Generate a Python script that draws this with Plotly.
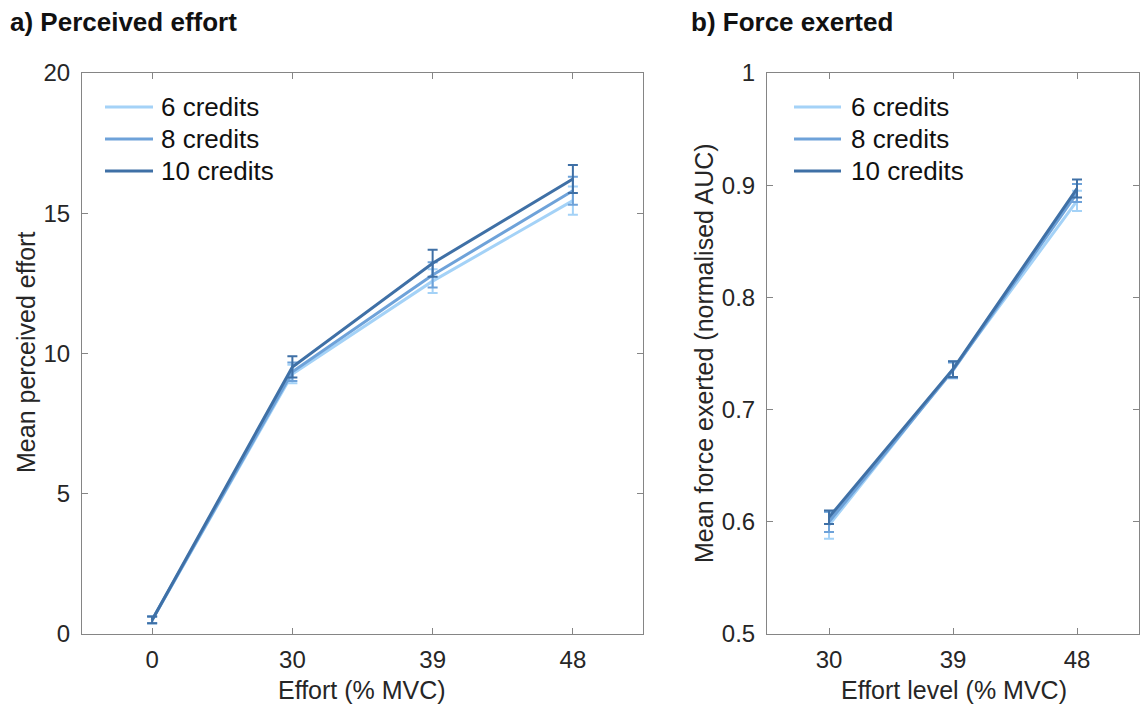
import plotly.graph_objects as go

# Effort levels (% MVC)
effort_a = ["0", "30", "39", "48"]
effort_b = ["30", "39", "48"]

series_names = ["6 credits", "8 credits", "10 credits"]
series_colors = ["#A4D2F7", "#6EA2D9", "#3F70A6"]

# a) Mean perceived effort and SEM
effort_6 = [0.5, 9.27, 12.58, 15.45]
effort_8 = [0.5, 9.35, 12.8, 15.8]
effort_10 = [0.5, 9.52, 13.22, 16.22]
effort_err_6 = [0.12, 0.33, 0.42, 0.5]
effort_err_8 = [0.12, 0.33, 0.45, 0.5]
effort_err_10 = [0.12, 0.38, 0.48, 0.5]

# b) Mean force exerted (normalised AUC) and SEM
force_6 = [0.597, 0.736, 0.886]
force_8 = [0.600, 0.735, 0.893]
force_10 = [0.604, 0.736, 0.897]
force_err_6 = [0.012, 0.007, 0.009]
force_err_8 = [0.009, 0.007, 0.008]
force_err_10 = [0.006, 0.007, 0.008]

W, H = 1140, 706
FONT = "Liberation Sans, Arial, Helvetica, sans-serif"

fig = go.Figure()

for name, color, ys, es in zip(series_names, series_colors,
                               [effort_6, effort_8, effort_10],
                               [effort_err_6, effort_err_8, effort_err_10]):
    fig.add_trace(go.Scatter(
        x=effort_a, y=ys, name=name, mode="lines", showlegend=False,
        line=dict(color=color, width=3),
        error_y=dict(type="data", array=es, color=color, thickness=2, width=5),
        xaxis="x", yaxis="y",
    ))

for name, color, ys, es in zip(series_names, series_colors,
                               [force_6, force_8, force_10],
                               [force_err_6, force_err_8, force_err_10]):
    fig.add_trace(go.Scatter(
        x=effort_b, y=ys, name=name, mode="lines", showlegend=False,
        line=dict(color=color, width=3),
        error_y=dict(type="data", array=es, color=color, thickness=2, width=5),
        xaxis="x2", yaxis="y2",
    ))

axis_common = dict(
    showline=True, linecolor="#858585", linewidth=1, mirror="ticks",
    ticks="inside", ticklen=6, tickcolor="#858585", showgrid=False,
    zeroline=False, automargin=False,
    tickfont=dict(size=24, color="#262626", family=FONT),
)


def px_x(v):
    return v / W


def px_y(v):
    return (H - v) / H


# Legend keys: short line samples with labels, one block per panel
shapes = []
annotations = []
legend_rows = [107, 139, 171]
for x_line0, x_line1, x_text in [(105, 153, 159), (794, 841, 849)]:
    for name, color, row in zip(series_names, series_colors, legend_rows):
        shapes.append(dict(type="line", xref="paper", yref="paper",
                           x0=px_x(x_line0), x1=px_x(x_line1),
                           y0=px_y(row), y1=px_y(row),
                           line=dict(color=color, width=3)))
        annotations.append(dict(text=name, x=px_x(x_text), y=px_y(row),
                                xref="paper", yref="paper", xanchor="left",
                                yanchor="middle", showarrow=False,
                                font=dict(size=26, color="#111111", family=FONT)))

annotations += [
    dict(text="<b>a) Perceived effort</b>", x=px_x(8), y=px_y(22),
         xref="paper", yref="paper", xanchor="left", yanchor="middle",
         showarrow=False, font=dict(size=26, color="#111111", family=FONT)),
    dict(text="<b>b) Force exerted</b>", x=px_x(689), y=px_y(22),
         xref="paper", yref="paper", xanchor="left", yanchor="middle",
         showarrow=False, font=dict(size=26, color="#111111", family=FONT)),
    dict(text="Effort (% MVC)", x=px_x(362), y=px_y(690),
         xref="paper", yref="paper", xanchor="center", yanchor="middle",
         showarrow=False, font=dict(size=25, color="#262626", family=FONT)),
    dict(text="Effort level (% MVC)", x=px_x(954), y=px_y(690),
         xref="paper", yref="paper", xanchor="center", yanchor="middle",
         showarrow=False, font=dict(size=25, color="#262626", family=FONT)),
    dict(text="Mean perceived effort", x=px_x(26), y=px_y(353),
         xref="paper", yref="paper", xanchor="center", yanchor="middle",
         textangle=-90, showarrow=False,
         font=dict(size=25, color="#262626", family=FONT)),
    dict(text="Mean force exerted (normalised AUC)", x=px_x(704), y=px_y(353),
         xref="paper", yref="paper", xanchor="center", yanchor="middle",
         textangle=-90, showarrow=False,
         font=dict(size=25, color="#262626", family=FONT)),
]

fig.update_layout(
    width=W, height=H,
    margin=dict(l=0, r=0, t=0, b=0, autoexpand=False),
    paper_bgcolor="white", plot_bgcolor="white",
    font=dict(family=FONT, color="#262626"),
    showlegend=False,
    xaxis=dict(domain=[px_x(82), px_x(643)], type="category",
               range=[-0.5, 3.5], anchor="y", ticklabelstandoff=4, **axis_common),
    yaxis=dict(domain=[px_y(634), px_y(73)], range=[0, 20],
               tickvals=[0, 5, 10, 15, 20], anchor="x",
               ticklabelstandoff=6, **axis_common),
    xaxis2=dict(domain=[px_x(767), px_x(1139)], type="category",
                range=[-0.5, 2.5], anchor="y2", ticklabelstandoff=4, **axis_common),
    yaxis2=dict(domain=[px_y(634), px_y(73)], range=[0.5, 1.0],
                tickvals=[0.5, 0.6, 0.7, 0.8, 0.9, 1.0],
                ticktext=["0.5", "0.6", "0.7", "0.8", "0.9", "1"],
                anchor="x2", ticklabelstandoff=6, **axis_common),
    shapes=shapes,
    annotations=annotations,
)

fig.write_html("out.html")
